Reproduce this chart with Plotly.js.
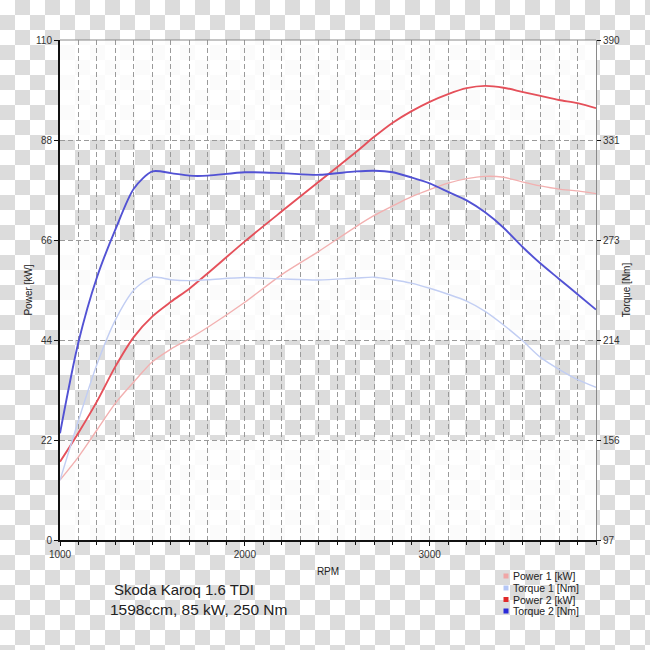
<!DOCTYPE html>
<html>
<head>
<meta charset="utf-8">
<script src="https://cdn.plot.ly/plotly-3.0.1.min.js"></script>
<style>
  html, body { margin: 0; padding: 0; }
  body {
    width: 650px; height: 650px;
    /* transparent-png checkerboard behind the chart */
    background-color: #ffffff;
    background-image: conic-gradient(#dcdcdc 25%, #ffffff 0 50%, #dcdcdc 0 75%, #ffffff 0);
    background-size: 30px 30px;
  }
  #grafico { width: 650px; height: 650px; }
</style>
</head>
<body>
<div id="grafico"></div>
<script>
// dados
const rpm = [1000, 1100, 1200, 1300, 1400, 1500, 1600, 1700, 1800, 2000, 2200, 2400, 2600, 2700, 2800, 2900, 3000, 3100, 3200, 3300, 3400, 3500, 3600, 3700, 3800, 3900];

const power1 = [13.2, 18.3, 24.2, 30.1, 34.8, 39.2, 42.0, 44.3, 46.8, 52.3, 58.4, 63.5, 68.9, 71.4, 73.5, 75.5, 77.1, 78.5, 79.5, 80.0, 79.8, 78.8, 77.9, 77.2, 76.8, 76.2];
const torque1 = [132, 167, 200, 226, 243.5, 251, 249.5, 249, 249.5, 250.8, 250, 249.4, 250.5, 251, 249.5, 247.5, 244.5, 241, 237, 231, 223, 214, 204, 197, 191, 186.5];
const power2 = [17.2, 23.6, 30.5, 38.2, 44.7, 49.2, 52.4, 55.3, 58.7, 65.7, 72.3, 78.8, 85.3, 88.7, 91.8, 94.3, 96.4, 98.1, 99.4, 99.9, 99.5, 98.6, 97.7, 96.8, 96.1, 95.0];
const torque2 = [159.5, 213, 251, 279, 303, 313, 312, 310.5, 310.5, 312.5, 312, 311, 313, 313.4, 312.5, 309.5, 306, 301, 296, 289, 280, 269, 259, 250, 241, 232];

const kwTicks = [0, 22, 44, 66, 88, 110];
const nmRange = [97, 390];
const nmLabels = ['97', '156', '214', '273', '331', '390'];

const nomes = ['Power 1 [kW]', 'Torque 1 [Nm]', 'Power 2 [kW]', 'Torque 2 [Nm]'];
const cores = ['#f2b0b0', '#c2cef3', '#e5505a', '#5252d4'];
const coresLegenda = ['#f0a6a6', '#b4c6f6', '#e02a2a', '#2a2ad8'];

// área do gráfico em pixels (margens)
const M = { l: 60, r: 54, t: 40, b: 110 };
const W = 650, H = 650;
const pw = W - M.l - M.r, ph = H - M.t - M.b;
const px = x => (x - M.l) / pw;
const py = y => (H - M.b - y) / ph;

// posições dos ticks do eixo direito alinhadas com a grade da esquerda
const nmTicks = nmLabels.map((t, i) => nmRange[0] + i * (nmRange[1] - nmRange[0]) / 5);

const series = [power1, torque1, power2, torque2];
const traces = series.map((s, i) => ({
    x: rpm, y: s,
    name: nomes[i],
    yaxis: i % 2 === 1 ? 'y2' : 'y',
    type: 'scatter', mode: 'lines',
    line: { color: cores[i], width: i < 2 ? 1.4 : 1.9, shape: 'spline', smoothing: 0.8 },
    showlegend: false, hoverinfo: 'skip'
}));

// faixas brancas no fundo da área do gráfico
const faixas = [[0, 22], [44, 66], [88, 110]].map(f => ({
    type: 'rect', xref: 'paper', yref: 'y', x0: 0, x1: 1, y0: f[0], y1: f[1],
    fillcolor: 'rgba(255,255,255,0.88)', line: { width: 0 }, layer: 'below'
}));

// legenda manual (o espaçamento da legenda do plotly é grande demais)
const legY = [576, 588, 599.5, 611];
const legQuad = nomes.map((n, i) => ({
    type: 'rect', xref: 'paper', yref: 'paper',
    x0: px(503.5), x1: px(508.5), y0: py(legY[i] - 2.5), y1: py(legY[i] + 2.5),
    fillcolor: coresLegenda[i], line: { width: 0 }
}));
const legTexto = nomes.map((n, i) => ({
    text: n, xref: 'paper', yref: 'paper', x: px(511), y: py(legY[i]),
    xanchor: 'left', yanchor: 'middle', showarrow: false,
    font: { size: 10.5, color: '#222' }
}));

const fonte = { family: 'Liberation Sans, Arial, sans-serif', size: 10, color: '#333' };

Plotly.newPlot('grafico', traces, {
    width: W, height: H,
    paper_bgcolor: 'rgba(0,0,0,0)',
    plot_bgcolor: 'rgba(0,0,0,0)',
    margin: { t: M.t, b: M.b, l: M.l, r: M.r, autoexpand: false },
    font: fonte,
    showlegend: false,
    xaxis: {
        range: [1000, 3900], tickvals: [1000, 2000, 3000],
        showline: true, linecolor: '#111', linewidth: 2,
        ticks: 'outside', ticklen: 4, tickcolor: '#111',
        showgrid: true, gridcolor: '#9a9a9a', griddash: '5px,3px', gridwidth: 1,
        minor: { dtick: 100, ticks: 'outside', ticklen: 3, tickcolor: '#111', showgrid: true, gridcolor: '#9a9a9a', griddash: '5px,3px' },
        zeroline: false,
        title: { text: 'RPM', font: { size: 10, color: '#222' }, standoff: 9 }
    },
    yaxis: {
        range: [0, 110], tickvals: kwTicks,
        showline: true, linecolor: '#111', linewidth: 2,
        ticks: 'outside', ticklen: 4, tickcolor: '#111',
        showgrid: true, gridcolor: '#9a9a9a', griddash: '5px,3px',
        zeroline: false,
        title: { text: 'Power [kW]', font: { size: 10, color: '#222' }, standoff: 2 }
    },
    yaxis2: {
        overlaying: 'y', side: 'right',
        range: nmRange, tickvals: nmTicks, ticktext: nmLabels,
        showline: true, linecolor: '#8a8a8a', linewidth: 1,
        ticks: 'outside', ticklen: 4, tickcolor: '#111',
        showgrid: false, zeroline: false,
        title: { text: 'Torque [Nm]', font: { size: 10, color: '#222' }, standoff: 3 }
    },
    shapes: faixas.concat([{
        type: 'line', xref: 'paper', yref: 'paper', x0: 0, x1: 1, y0: 1, y1: 1,
        line: { color: '#8a8a8a', width: 1 }
    }], legQuad),
    annotations: [
        { text: 'Skoda Karoq 1.6 TDI', xref: 'paper', yref: 'paper', x: px(112), y: py(589),
          xanchor: 'left', yanchor: 'middle', showarrow: false, font: { size: 15, color: '#222' } },
        { text: '1598ccm, 85 kW, 250 Nm', xref: 'paper', yref: 'paper', x: px(108), y: py(609),
          xanchor: 'left', yanchor: 'middle', showarrow: false, font: { size: 15.5, color: '#222' } }
    ].concat(legTexto)
}, { displayModeBar: false });
</script>
</body>
</html>
